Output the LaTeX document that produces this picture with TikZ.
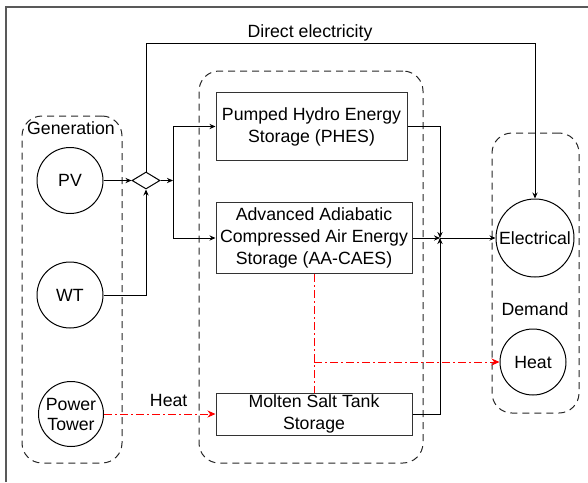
\documentclass[tikz,border=0pt]{standalone}
\usepackage{fontspec}
\setmainfont{Liberation Sans}
\usetikzlibrary{shapes.geometric,positioning,arrows.meta}

\begin{document}
\begin{tikzpicture}[
  x=0.5pt, y=-0.5pt,
  font=\fontsize{8.85}{11}\selectfont,
  grpbox/.style={draw=black!85, dash pattern=on 3.5pt off 2.5pt, rounded corners=10pt, line width=0.5pt},
  unit/.style={draw, circle, inner sep=0pt, minimum size=33pt, align=center, line width=0.5pt},
  storebox/.style={draw=black!80, rectangle, inner sep=0pt, align=center, line width=0.5pt},
  flow/.style={-{Stealth[length=3pt,width=2.6pt]}, line width=0.5pt},
  heatflow/.style={red, dash pattern=on 4pt off 1.5pt on 1pt off 1.5pt, line width=0.5pt},
  heattip/.style={-{Stealth[length=4pt,width=3.5pt]}},
]
  \useasboundingbox (0,0) rectangle (588,482);
  \draw[black!65, line width=0.8pt] (6,482) -- (6,7) -- (588,7);

  % Groups
  \node[grpbox, minimum width=50pt, minimum height=173.5pt] (gen) at (72,289.5) {};
  \node[grpbox, minimum width=112pt, minimum height=196pt] (ess) at (311,267) {};
  \node[grpbox, minimum width=43.5pt, minimum height=140pt] (dem) at (535.5,273) {};
  \node (gentitle) at (71,128) {Generation};
  \node (demtitle) at (535,309) {Demand};

  % Generation units
  \node[unit] (pv) at (70,180.5) {PV};
  \node[unit] (wt) at (70,295) {WT};
  \node[unit, minimum size=32.5pt] (tower) at (71,414) {Power\\[-1pt]Tower};
  \node[draw, diamond, minimum width=14pt, minimum height=8.5pt, inner sep=0pt, line width=0.5pt] (mix) at (146,180.5) {};

  % Storage
  \node[storebox, minimum width=95.5pt, minimum height=34pt] (phes) at (311.5,126.5) {Pumped Hydro Energy\\Storage (PHES)};
  \node[storebox, minimum width=98pt, minimum height=35.5pt] (caes) at (314,238) {Advanced Adiabatic\\Compressed Air Energy\\Storage (AA-CAES)};
  \node[storebox, minimum width=98pt, minimum height=21pt] (salt) at (314,414) {Molten Salt Tank\\Storage};

  % Demand
  \node[unit, minimum size=39pt] (elec) at (535,238) {Electrical};
  \node[unit] (heat) at (533,362) {Heat};

  % Electricity
  \coordinate (dcorner) at (535,43);
  \coordinate (split) at (173,180.5);
  \coordinate (jn) at (440,238);
  \draw[flow] (pv) -- (mix);
  \draw[flow] (wt.east) -| (mix.south);
  \draw[flow] (mix.north) |- (dcorner) -- (elec.north);
  \node (direct) at (310,33) {Direct electricity};
  \draw[flow] (mix.east) -- (split);
  \draw[flow] (split) |- (phes.west);
  \draw[flow] (split) |- (caes.west);
  \draw[flow] (phes.east) -| (jn);
  \draw[flow] (caes.east) -- (jn);
  \draw[flow] (salt.east) -| (jn);
  \draw[flow] (jn) -- (elec.west);

  % Heat
  \coordinate (tap) at (314,362);
  \draw[heatflow, heattip] (tower.east) -- node[above, black, pos=0.58] {Heat} (salt.west);
  \draw[heatflow] (caes.south) -- (salt.north);
  \draw[heatflow, heattip] (tap) -- (heat.west);
\end{tikzpicture}
\end{document}
